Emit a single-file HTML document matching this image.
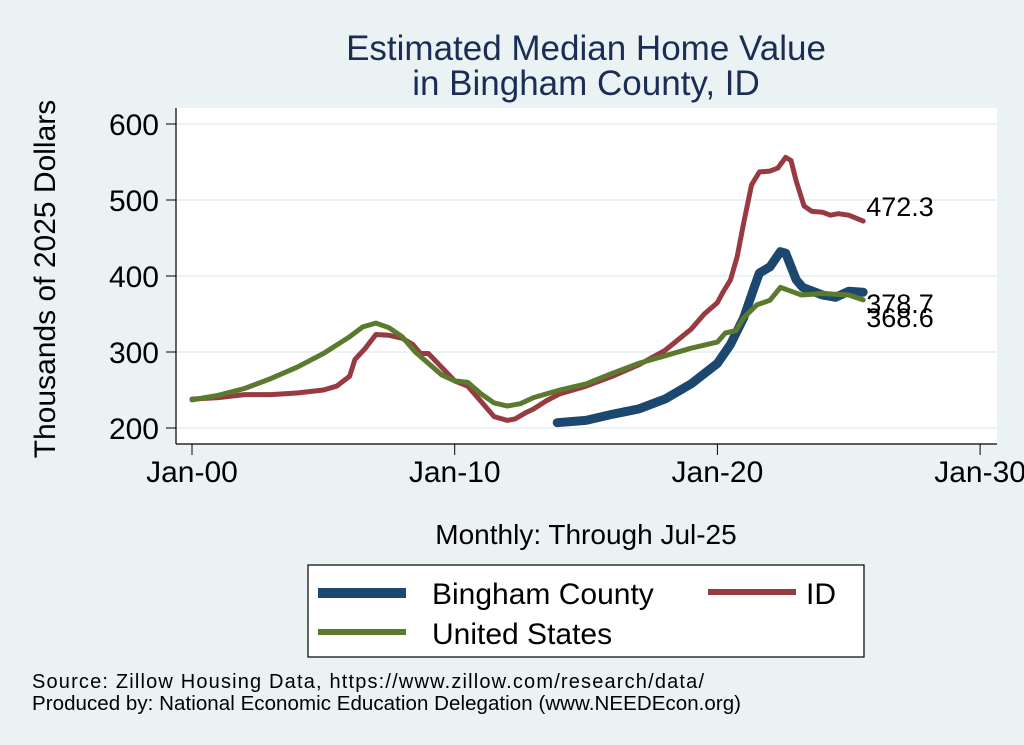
<!DOCTYPE html>
<html><head><meta charset="utf-8"><style>
body{margin:0;background:#eaf2f3;}
svg{display:block;font-family:"Liberation Sans",sans-serif;}
</style></head><body>
<svg id="chart" width="1024" height="745" viewBox="0 0 1024 745">
<rect x="0" y="0" width="1024" height="745" fill="#eaf2f3"/>
<text x="586" y="60" font-size="35" fill="#1c2d55" text-anchor="middle">Estimated Median Home Value</text>
<text x="586" y="95" font-size="35" fill="#1c2d55" text-anchor="middle">in Bingham County, ID</text>
<rect x="176" y="108" width="821" height="336" fill="#fff"/>
<g id="grid"></g>
<g id="axes"></g>
<g id="series"></g>
<text transform="translate(55,279) rotate(-90)" font-size="30" text-anchor="middle" fill="#000">Thousands of 2025 Dollars</text>
<text x="586" y="544" font-size="28" text-anchor="middle" fill="#000">Monthly: Through Jul-25</text>
<g>
<rect x="308" y="565" width="556" height="92" fill="#fff" stroke="#000" stroke-width="1.2"/>
<line x1="318" y1="593" x2="406" y2="593" stroke="#1c4870" stroke-width="10"/>
<text x="432" y="604" font-size="30">Bingham County</text>
<line x1="708" y1="592" x2="796" y2="592" stroke="#973a42" stroke-width="6"/>
<text x="806" y="604" font-size="30">ID</text>
<line x1="318" y1="632" x2="406" y2="632" stroke="#5b7a2e" stroke-width="6"/>
<text x="432" y="644" font-size="30">United States</text>
</g>
<text x="32" y="688" font-size="20" textLength="672">Source: Zillow Housing Data, https://www.zillow.com/research/data/</text>
<text x="32" y="710" font-size="20.5" textLength="709">Produced by: National Economic Education Delegation (www.NEEDEcon.org)</text>
</svg>
<script>
const yTicks=[200,300,400,500,600];
const xTickYears=[0,10,20,30];
const xTickLabels=["Jan-00","Jan-10","Jan-20","Jan-30"];
const idYears=[0,1,2,3,4,5,5.5,6,6.2,6.6,7,7.5,8,8.4,8.7,9,9.5,10,10.5,11,11.5,12,12.3,12.7,13,13.5,14,15,16,17,18,19,19.5,20,20.2,20.5,20.75,21,21.3,21.6,22,22.3,22.6,22.8,23,23.3,23.6,24,24.3,24.6,25,25.55];
const idVals=[238,240,244,244,246,250,255,268,290,305,323,322,318,310,298,298,280,262,255,235,215,210,212,220,225,236,245,255,268,283,302,330,350,365,378,395,425,470,520,537,538,542,556,552,525,492,485,484,480,482,480,472.3];
const bingYears=[13.9,15,16,17,18,19,20,20.5,21,21.4,21.6,22,22.4,22.6,23,23.25,24,24.5,25,25.55];
const bingVals=[207,210,218,225,238,258,285,310,345,385,404,412,432,430,395,385,375,372,380,378.7];
const usYears=[0,1,2,3,4,5,6,6.5,7,7.5,8,8.5,9,9.5,10,10.5,11,11.5,12,12.5,13,14,15,16,17,18,19,20,20.3,20.7,21,21.5,22,22.4,22.8,23.2,24,25,25.55];
const usVals=[237,243,252,265,280,298,320,333,338,332,320,300,285,270,262,260,245,233,229,232,240,250,258,272,285,295,305,313,325,328,345,362,368,385,380,375,377,375,368.6];
const endLabels=["472.3","378.7","368.6"];
const NS="http://www.w3.org/2000/svg";
function xs(t){return 192+t*26.27;}
function ys(v){return 428-(v-200)*0.76;}
function mk(tag,attrs,parent){const e=document.createElementNS(NS,tag);for(const k in attrs)e.setAttribute(k,attrs[k]);parent.appendChild(e);return e;}
const grid=document.getElementById('grid'),axes=document.getElementById('axes'),ser=document.getElementById('series');
yTicks.forEach(v=>{
 const g=mk('line',{x1:176,x2:997,y1:ys(v),y2:ys(v),stroke:'#eaf2f3','stroke-width':2},grid);
 
 
 const t=mk('line',{x1:166,x2:176,y1:ys(v),y2:ys(v),stroke:'#000','stroke-width':1},axes);
 
 
 const l=mk('text',{x:159,y:ys(v)+11,'font-size':30,'text-anchor':'end'},axes);
 l.textContent=v;
 
 
});
mk('line',{x1:176,x2:176,y1:108,y2:444,stroke:'#000','stroke-width':1.2},axes);
mk('line',{x1:176,x2:997,y1:444,y2:444,stroke:'#000','stroke-width':1.2},axes);
xTickYears.forEach((t,i)=>{
 const k=mk('line',{x1:xs(t),x2:xs(t),y1:444,y2:455,stroke:'#000','stroke-width':1},axes);
 
 
 const l=mk('text',{x:xs(t),y:482,'font-size':30,'text-anchor':'middle'},axes);
 l.textContent=xTickLabels[i];
 
 
});
function path(xa,va,color,w,name){
 const d=xa.map((t,i)=>(i?'L':'M')+xs(t).toFixed(1)+','+ys(va[i]).toFixed(1)).join('');
 const p=mk('path',{d:d,fill:'none',stroke:color,'stroke-width':w,'stroke-linejoin':'round','stroke-linecap':'round'},ser);
 
 
}
path(bingYears,bingVals,'#1c4870',9,'line-bingham-county');
path(idYears,idVals,'#973a42',5,'line-id');
path(usYears,usVals,'#5b7a2e',5,'line-united-states');
const ends=[[idYears,idVals],[bingYears,bingVals],[usYears,usVals]];
const endOff=[-5,21,27];
ends.forEach((s,i)=>{
 const t=s[0][s[0].length-1],v=s[1][s[1].length-1];
 const l=mk('text',{x:xs(t)+3,y:ys(v)+endOff[i],'font-size':27},ser);
 l.textContent=endLabels[i];
 
 
});
</script>
</body></html>
